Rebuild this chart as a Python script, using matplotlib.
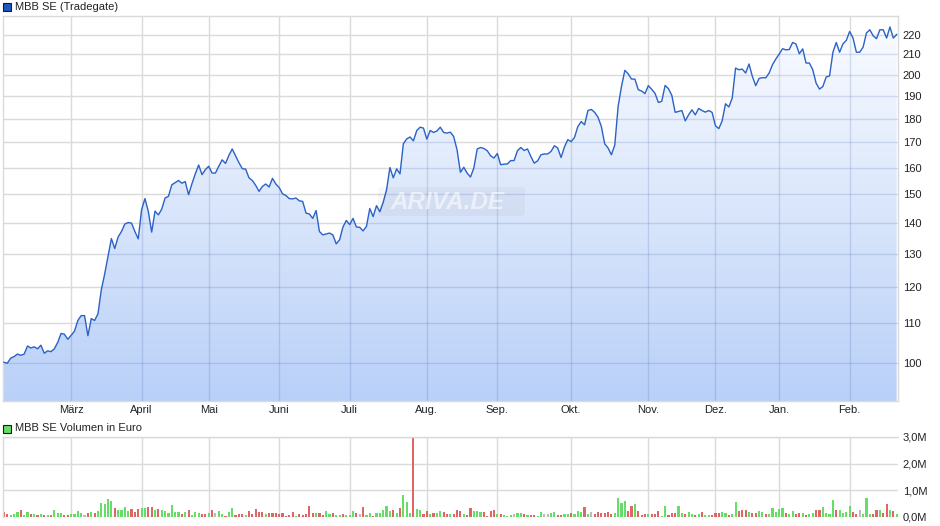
import numpy as np
import matplotlib
matplotlib.use("Agg")
import matplotlib.pyplot as plt
from matplotlib.colors import LinearSegmentedColormap
from matplotlib.patches import Rectangle, FancyBboxPatch

plt.rcParams['font.family'] = ['Liberation Sans', 'DejaVu Sans']

# ---------------- data ----------------
price = [
    100.2, 100.0, 101.2, 101.6, 102.2, 101.9, 102.2, 104.2, 103.7, 104.0,
    103.5, 104.4, 102.4, 103.0, 102.8, 103.5, 105.1, 107.4, 107.2, 105.9,
    106.9, 108.0, 110.8, 112.1, 112.1, 106.8, 111.3, 110.8, 112.6, 119.3,
    123.9, 129.2, 134.9, 131.7, 135.4, 137.2, 139.7, 140.2, 140.0, 137.2,
    134.8, 144.6, 148.5, 144.0, 137.0, 144.1, 142.8, 144.8, 148.7, 149.3,
    153.5, 154.3, 155.1, 154.1, 154.7, 149.9, 153.9, 157.6, 161.0, 157.3,
    159.2, 160.5, 157.9, 157.9, 160.5, 163.0, 161.6, 164.7,
    167.3, 164.6, 161.9, 159.6, 159.4, 156.1, 155.1, 153.3, 151.1, 152.9,
    153.8, 152.7, 155.9, 153.8, 152.5, 150.2, 149.6, 148.5, 148.4, 148.7,
    147.7, 147.5, 143.4, 143.1, 141.6, 144.3, 137.2, 136.1, 136.4, 136.7,
    136.1, 133.2, 134.5, 138.7, 140.9, 139.5, 141.6, 138.7, 138.6, 137.4,
    138.9, 145.0, 142.2, 146.0, 143.9, 147.2, 151.7, 160.0, 156.1, 159.5,
    157.6, 169.4, 171.4, 172.2, 170.6, 174.9, 176.3, 175.9, 171.3, 174.9,
    174.1, 174.7, 176.3, 174.1, 173.8, 174.2, 172.4, 167.0, 158.2, 160.1,
    157.9, 156.4, 159.8, 167.3, 167.9, 167.5, 166.6, 164.6, 163.7, 165.5,
    161.1, 161.3, 161.4, 162.7, 162.7, 166.6, 167.9, 166.7, 167.3, 164.3,
    161.7, 162.6, 165.0, 165.3, 165.3, 166.3, 168.6, 167.7, 163.9, 168.1,
    171.1, 170.3, 172.0, 176.6, 178.7, 177.3, 183.5, 184.0, 182.7, 180.6,
    176.6, 169.4, 167.7, 165.0, 168.9, 185.3, 194.4, 202.1, 200.4, 197.9,
    197.9, 192.9, 192.3, 191.1, 194.8, 193.1, 191.2, 187.1, 187.6, 194.9,
    193.4, 190.3, 182.7, 183.1, 183.5, 179.0,
    181.6, 183.8, 181.6, 184.4, 183.5, 182.8, 183.5, 182.7, 176.9, 175.7,
    179.0, 186.5, 185.1, 189.1, 203.2, 202.4, 202.7, 200.8, 205.2, 199.2,
    194.8, 198.2, 198.6, 198.5, 200.8, 204.9, 207.7, 210.2, 212.9, 212.3,
    212.5, 216.1, 215.3, 210.3, 212.8, 205.7, 205.7, 202.4, 196.0, 193.2,
    194.4, 198.9, 199.4, 211.0, 216.1, 211.1, 215.4, 217.2, 221.9, 218.4,
    211.1, 211.1, 213.7, 221.1, 222.8, 219.6, 218.1, 222.8, 222.8, 218.4,
    224.3, 218.4, 220.3,
]

# volume in million euro
volume_m = [
    0.18, 0.10, 0.06, 0.11, 0.18, 0.25, 0.06, 0.18, 0.10, 0.10,
    0.06, 0.10, 0.06, 0.06, 0.06, 0.25, 0.14, 0.14, 0.06, 0.06,
    0.10, 0.10, 0.22, 0.14, 0.06, 0.14, 0.18, 0.14, 0.22, 0.52,
    0.48, 0.67, 0.59, 0.33, 0.25, 0.25, 0.37, 0.22, 0.29, 0.18,
    0.29, 0.33, 0.33, 0.37, 0.37, 0.25, 0.29, 0.25, 0.22, 0.14,
    0.44, 0.18, 0.18, 0.10, 0.18, 0.25, 0.06, 0.18, 0.14, 0.10,
    0.10, 0.14, 0.25, 0.14, 0.22, 0.10, 0.04, 0.18, 0.33, 0.06,
    0.10, 0.10, 0.06, 0.22, 0.10, 0.29, 0.18, 0.18, 0.10, 0.14,
    0.14, 0.14, 0.10, 0.14, 0.03, 0.06, 0.18, 0.03, 0.10,
    0.08, 0.10, 0.41, 0.14, 0.14, 0.14, 0.06, 0.22, 0.10, 0.14,
    0.06, 0.06, 0.10, 0.06, 0.06, 0.22, 0.14, 0.10, 0.37, 0.06,
    0.14, 0.03, 0.14, 0.14, 0.25, 0.41, 0.22, 0.25, 0.14, 0.33,
    0.82, 0.56, 0.14, 3.10, 0.29, 0.25, 0.10, 0.22, 0.10, 0.14,
    0.14, 0.22, 0.18, 0.10, 0.10, 0.10, 0.25, 0.22, 0.10, 0.06,
    0.33, 0.22, 0.22, 0.18, 0.18, 0.03, 0.22, 0.25, 0.10, 0.10,
    0.06, 0.04, 0.06, 0.10, 0.14, 0.14, 0.10, 0.06, 0.06, 0.06,
    0.03, 0.18, 0.10, 0.10, 0.14, 0.18, 0.06, 0.06, 0.10, 0.10,
    0.14, 0.10, 0.22, 0.18, 0.37, 0.10, 0.18, 0.10,
    0.18, 0.14, 0.14, 0.18, 0.10, 0.14, 0.71, 0.52, 0.59, 0.22,
    0.41, 0.48, 0.22, 0.06, 0.10, 0.10, 0.10, 0.10, 0.22, 0.03,
    0.41, 0.06, 0.14, 0.14, 0.41, 0.14, 0.10, 0.18, 0.10, 0.06,
    0.10, 0.18, 0.06, 0.06, 0.06, 0.14, 0.14, 0.18, 0.14, 0.06,
    0.10, 0.56, 0.22, 0.25, 0.25, 0.18, 0.14, 0.14, 0.22, 0.18,
    0.10, 0.10, 0.33, 0.18, 0.29, 0.33, 0.14, 0.10, 0.22, 0.10,
    0.14, 0.14, 0.06, 0.10, 0.14, 0.25, 0.25, 0.37, 0.14, 0.10,
    0.63, 0.25, 0.25, 0.14, 0.18, 0.41, 0.18, 0.10, 0.25, 0.10,
    0.71, 0.10, 0.10, 0.25, 0.25, 0.14, 0.48, 0.25, 0.22, 0.10,
]

# per-day direction: u = up (green), d = down (red), n = unchanged (grey)
direction = list(
    "dduuuduudu" "dududuuudd" "uuuunduduu" "uuuduuuudd" "duudduduuu"
    "uuududuuud" "dudnuuduud" "ddudddddud" "dddddddud"
    "ddddudduud" "uuduuudndu" "uduuuuudud" "uuuduuddud" "uuddudddud"
    "duuuddddud" "uuunuududd" "uunnuudduu" "duuudund"
    "ddddduuuud" "dudddudddu" "uddduuduud" "uduuddduud" "uudddudduu"
    "duuuuuduud" "duduudduuu" "uduuuuddnu" "uudduddudu"
)

month_labels = ['März', 'April', 'Mai', 'Juni', 'Juli', 'Aug.', 'Sep.',
                'Okt.', 'Nov.', 'Dez.', 'Jan.', 'Feb.']
month_idx = [20, 41, 61, 82, 103, 126, 147, 169, 192, 212, 231, 252]
price_ticks = [100, 110, 120, 130, 140, 150, 160, 170, 180, 190, 200, 210, 220]
vol_ticks = [0, 1, 2, 3]
vol_tick_labels = ['0,0M', '1,0M', '2,0M', '3,0M']

title_main = 'MBB SE (Tradegate)'
title_vol = 'MBB SE Volumen in Euro'

# ---------------- figure ----------------
W, H = 940, 526
fig = plt.figure(figsize=(W / 100, H / 100), dpi=100)


def rect(l, t, r, b):
    return [l / W, 1 - b / H, (r - l) / W, (b - t) / H]


GRID = '#dadada'
TXT = '#222222'
FS = 8.0

ax = fig.add_axes(rect(3, 16, 898, 401))
axv = fig.add_axes(rect(3, 437, 898, 516.7))

x = np.arange(len(price))
p = np.array(price)
ymin, ymax = 91.3, 230.3
xmin, xmax = -0.3, len(price) - 0.6

ax.set_yscale('log')
ax.set_axisbelow(True)
# gradient fill under the curve
poly = ax.fill_between(x, p, ymin, facecolor='none', edgecolor='none')
path = poly.get_paths()[0]
cmap = LinearSegmentedColormap.from_list('g', ['#b9d0f8', '#fbfcff'])
grad = np.linspace(0, 1, 256).reshape(-1, 1)
im = ax.imshow(grad, extent=[0, 1, 0, 1], origin='lower', aspect='auto',
               cmap=cmap, transform=ax.transAxes, zorder=1,
               interpolation='bilinear')
im.set_clip_path(path, transform=ax.transData)

# bluish overlay of gridlines inside the fill
for yv in price_ticks:
    l = ax.axhline(yv, color=(0.15, 0.3, 0.6, 0.16), lw=1.0, zorder=1.5)
    l.set_clip_path(path, transform=ax.transData)
for xv in month_idx:
    l = ax.axvline(xv, color=(0.15, 0.3, 0.6, 0.16), lw=1.0, zorder=1.5)
    l.set_clip_path(path, transform=ax.transData)

ax.plot(x, p, color='#2b62c6', lw=1.0, zorder=3)

ax.set_xlim(xmin, xmax)
ax.set_ylim(ymin, ymax)
ax.set_yticks(price_ticks)
ax.set_yticklabels([str(v) for v in price_ticks])
ax.yaxis.set_minor_locator(matplotlib.ticker.NullLocator())
ax.set_xticks(month_idx)
ax.set_xticklabels(month_labels)
ax.yaxis.tick_right()
ax.tick_params(axis='y', length=0, pad=3.5, labelsize=FS, labelcolor=TXT)
ax.tick_params(axis='x', length=0, pad=3, labelsize=FS, labelcolor=TXT)
ax.grid(True, color=GRID, lw=1.0)
for s in ax.spines.values():
    s.set_color(GRID)
    s.set_linewidth(1.0)

# watermark
wm = FancyBboxPatch((378 / W, 1 - 216 / H), 147 / W, 29 / H,
                    boxstyle='round,pad=0,rounding_size=0.006',
                    transform=fig.transFigure, facecolor='#000000',
                    alpha=0.03, edgecolor='none', zorder=4)
ax.add_patch(wm)
fig.text(448 / W, 1 - 202.5 / H, 'ARIVA.DE', fontsize=17.5, fontweight='bold',
         style='italic', color='white', alpha=0.55, ha='center', va='center',
         zorder=5)

# volume bars
xv = np.arange(len(volume_m))
col_map = {'u': '#66dd66', 'd': '#dd6666', 'n': '#bbbbbb'}
bar_colors = [col_map[c] for c in direction]
axv.set_axisbelow(True)
axv.bar(xv, volume_m, width=0.64, color=bar_colors, linewidth=0, zorder=2)
axv.set_xlim(xmin, xmax)
axv.set_ylim(0, 3.0)
axv.set_yticks(vol_ticks)
axv.set_yticklabels(vol_tick_labels)
axv.set_xticks(month_idx)
axv.set_xticklabels([])
axv.yaxis.tick_right()
axv.tick_params(axis='y', length=0, pad=3.5, labelsize=FS, labelcolor=TXT)
axv.tick_params(axis='x', length=0)
axv.grid(True, color=GRID, lw=1.0)
for s in axv.spines.values():
    s.set_color(GRID)
    s.set_linewidth(1.0)
axv.spines['bottom'].set_visible(False)
axv.spines['right'].set_visible(False)

# legend squares + titles
fig.patches.append(Rectangle((3 / W, 1 - 11 / H), 7.5 / W, 8 / H,
                             transform=fig.transFigure, facecolor='#1d57c4',
                             edgecolor='#1a1a1a', lw=0.8))
fig.text(15 / W, 1 - 6.5 / H, title_main, fontsize=FS, color=TXT,
         ha='left', va='center')
fig.patches.append(Rectangle((3 / W, 1 - 432.5 / H), 7.5 / W, 8 / H,
                             transform=fig.transFigure, facecolor='#66dd66',
                             edgecolor='#1a1a1a', lw=0.8))
fig.text(15 / W, 1 - 428 / H, title_vol, fontsize=FS, color=TXT,
         ha='left', va='center')

fig.savefig('out.png', dpi=100)
